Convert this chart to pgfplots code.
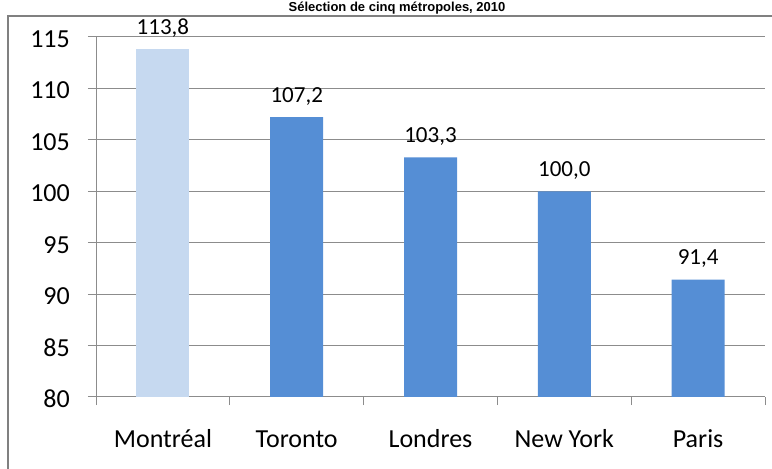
\documentclass[border=0pt]{standalone}
\usepackage{fontspec}
\setmainfont{Carlito}
\newfontfamily\arialfont{Liberation Sans}
\usepackage{pgfplots}
\pgfplotsset{compat=1.18}
\definecolor{barlight}{RGB}{198,217,240}
\definecolor{barblue}{RGB}{85,142,213}
\definecolor{gridgray}{RGB}{140,140,140}
\definecolor{framegray}{RGB}{128,128,128}
\begin{document}
\begin{tikzpicture}
\useasboundingbox (0bp,0bp) rectangle (772bp,469bp);
\clip (0bp,0bp) rectangle (772bp,469bp);
\draw[framegray, line width=2bp] (8bp,0bp) -- (8bp,452.5bp) -- (772bp,452.5bp);
\node[font=\arialfont\bfseries\fontsize{13bp}{15bp}\selectfont, anchor=base, inner sep=0pt] at (397bp,457.5bp) {Sélection de cinq métropoles, 2010};
\begin{axis}[
  at={(96bp,72bp)}, anchor=south west,
  scale only axis, width=669bp, height=360bp,
  xmin=-0.5, xmax=4.5, ymin=80, ymax=115,
  axis x line*=bottom, axis y line*=left,
  x axis line style={-, gridgray, line width=1bp},
  y axis line style={-, gridgray, line width=1bp},
  xtick={-0.5,0.5,1.5,2.5,3.5,4.5},
  x tick label as interval=true,
  xticklabels={Montréal,Toronto,Londres,New York,Paris},
  ytick={80,85,90,95,100,105,110,115},
  tick align=outside,
  major tick length=8bp,
  tick style={gridgray, line width=1bp},
  ymajorgrids,
  major grid style={gridgray, line width=1bp},
  /pgf/number format/assume math mode=true,
  ticklabel style={font=\fontsize{26bp}{30bp}\selectfont, text=black},
  yticklabel style={anchor=east, inner sep=0pt, xshift=-18bp, yshift=-2bp},
  xticklabel style={anchor=base, inner sep=0pt, yshift=-42bp},
  nodes near coords={\pgfmathprintnumber[fixed,fixed zerofill,precision=1,use comma,assume math mode=true]{\pgfplotspointmeta}},
  every node near coord/.append style={font=\fontsize{23bp}{26bp}\selectfont, anchor=base, inner sep=0pt, yshift=15bp, text=black},
]
\addplot[ybar, bar width=53bp, bar shift=0pt, fill=barlight, draw=none] coordinates {(0,113.8)};
\addplot[ybar, bar width=53bp, bar shift=0pt, fill=barblue, draw=none] coordinates {(1,107.2) (2,103.3) (3,100.0) (4,91.4)};
\end{axis}
\end{tikzpicture}
\end{document}
